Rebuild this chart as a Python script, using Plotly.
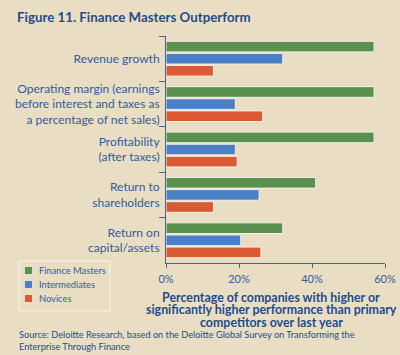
import plotly.graph_objects as go

categories = [
    "Revenue growth",
    "Operating margin (earnings<br>before interest and taxes as<br>a percentage of net sales)",
    "Profitability<br>(after taxes)",
    "Return to<br>shareholders",
    "Return on<br>capital/assets",
]
finance_masters = [57, 57, 57, 41, 32]
intermediates = [32, 19, 19, 25.5, 20.5]
novices = [13, 26.5, 19.5, 13, 26]
series_names = ["Finance Masters", "Intermediates", "Novices"]
tick_vals = [0, 20, 40, 60]
tick_text = ["0%", "20%", "40%", "60%"]
x_title_lines = [
    "Percentage of companies with higher or",
    "significantly higher performance than primary",
    "competitors over last year",
]
source_lines = [
    "Source: Deloitte Research, based on the Deloitte Global Survey on Transforming the",
    "Enterprise Through Finance",
]

colors = ["#5B9150", "#4B80C8", "#DA5A34"]
bg = "#E9DEC3"
blue_text = "#2F5C9E"
dark_blue = "#1F4C8A"
axis_col = "#4D6284"
font = "Lato"

fig = go.Figure()
for name, vals, col in zip(series_names, [finance_masters, intermediates, novices], colors):
    fig.add_trace(go.Bar(
        y=categories, x=vals, name=name, orientation="h",
        marker=dict(color=col, line=dict(color="#F6F1E6", width=1)),
    ))

L, R, T, B = 166, 15, 36, 92
W, H = 400, 355
pw, ph = W - L - R, H - T - B

def px(x):
    return (x - L) / pw

def py(y):
    return (H - B - y) / ph

fig.update_layout(
    width=W, height=H,
    margin=dict(l=L, r=R, t=T, b=B, pad=0, autoexpand=False),
    paper_bgcolor=bg, plot_bgcolor=bg,
    barmode="group", bargap=0.2, bargroupgap=0.12,
    showlegend=False,
    font=dict(family=font, color=blue_text),
    title=dict(
        text="<b>Figure 11. Finance Masters Outperform</b>",
        x=17 / W, xanchor="left", y=1 - 17 / H, yanchor="middle",
        font=dict(family=font, size=13.3, color=dark_blue),
    ),
)
fig.update_xaxes(
    range=[0, 60], tickvals=tick_vals, ticktext=tick_text,
    showgrid=False, zeroline=False,
    showline=True, linecolor=axis_col, linewidth=1,
    ticks="outside", ticklen=4, tickcolor=axis_col,
    tickfont=dict(family=font, size=11, color=blue_text),
    ticklabelstandoff=2,
    fixedrange=True,
)
fig.update_yaxes(
    autorange="reversed", showgrid=False,
    showline=True, linecolor=axis_col, linewidth=1,
    ticks="outside", tickson="boundaries", ticklen=6, tickcolor=axis_col,
    tickfont=dict(family=font, size=12, color=blue_text),
    ticklabelstandoff=3,
    fixedrange=True,
)

# x-axis title, one annotation per line for tight spacing
for i, line in enumerate(x_title_lines):
    fig.add_annotation(
        text="<b>" + line + "</b>",
        xref="paper", yref="paper", x=px(271), y=py(297 + 12.8 * i),
        xanchor="center", yanchor="middle", showarrow=False,
        font=dict(family=font, size=12.4, color=dark_blue),
    )
for i, line in enumerate(source_lines):
    fig.add_annotation(
        text=line,
        xref="paper", yref="paper", x=px(17), y=py(334 + 12 * i),
        xanchor="left", yanchor="middle", showarrow=False,
        font=dict(family=font, size=9.2, color=dark_blue),
    )

# legend box drawn manually for compact spacing
fig.add_shape(type="rect", xref="paper", yref="paper",
              x0=px(19), x1=px(110), y0=py(261), y1=py(311),
              line=dict(color="#F8F4EC", width=1), fillcolor=bg, layer="below")
for i, (name, col) in enumerate(zip(series_names, colors)):
    yc = 270.5 + 14 * i
    fig.add_shape(type="rect", xref="paper", yref="paper",
                  x0=px(25), x1=px(32), y0=py(yc - 3.5), y1=py(yc + 3.5),
                  line=dict(width=0), fillcolor=col)
    fig.add_annotation(
        text=name, xref="paper", yref="paper", x=px(37), y=py(yc),
        xanchor="left", yanchor="middle", showarrow=False,
        font=dict(family=font, size=9.3, color=blue_text),
    )

fig.write_html(
    "out.html",
    config={"displayModeBar": False, "staticPlot": True},
    post_script="document.body.style.margin='0';document.body.style.overflow='hidden';",
)
